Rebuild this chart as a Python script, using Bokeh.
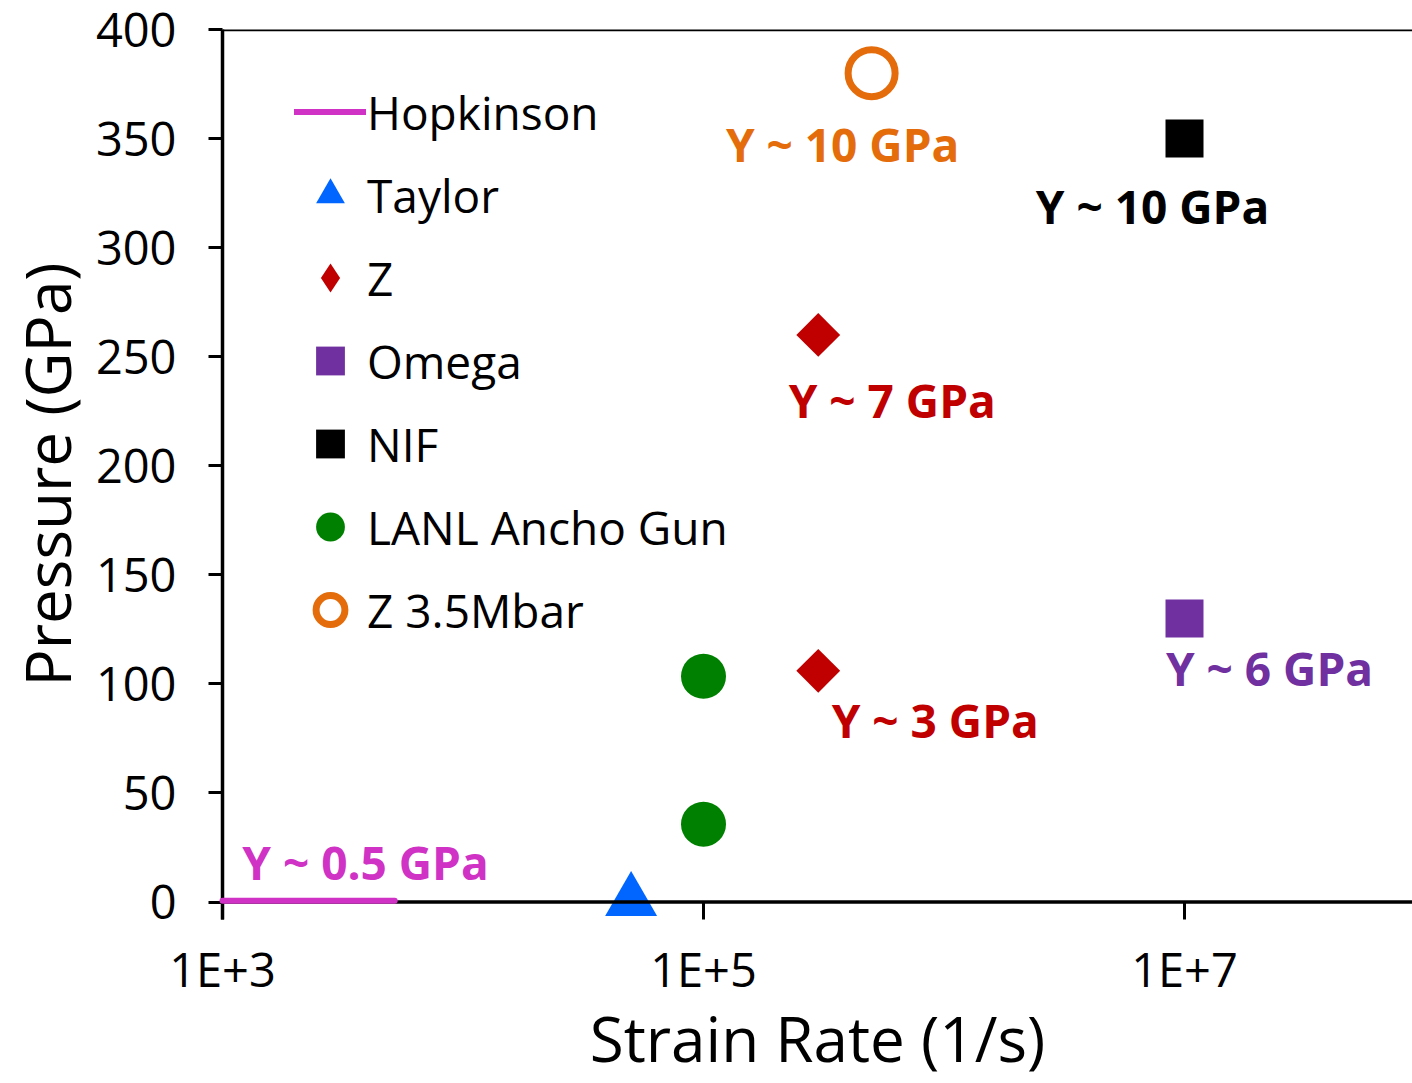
import math
from bokeh.plotting import figure
from bokeh.models import (FixedTicker, CustomJSTickFormatter, Span, Label,
                          Legend, LegendItem)
from bokeh.embed import file_html
from bokeh.resources import INLINE

# ---------------- data ----------------
hopkinson_rate = [1e3, 5.2e3]
hopkinson_p = [0.6, 0.6]
taylor_rate = [5e4]
taylor_p = [0.5]
z_rate = [3e5, 3e5]
z_p = [260, 106]
omega_rate = [1e7]
omega_p = [130]
nif_rate = [1e7]
nif_p = [350]
lanl_rate = [1e5, 1e5]
lanl_p = [103.5, 35.7]
z35_rate = [5e5]
z35_p = [380]

x_ticks = [1e3, 1e5, 1e7]
y_ticks = [0, 50, 100, 150, 200, 250, 300, 350, 400]

# annotations: text, anchor rate, anchor pressure, colour
ann_text = ["Y ~ 10 GPa", "Y ~ 10 GPa", "Y ~ 7 GPa", "Y ~ 3 GPa", "Y ~ 6 GPa", "Y ~ 0.5 GPa"]
ann_rate = [5e5, 1e7, 3e5, 3e5, 1e7, 1e3]
ann_p = [380, 350, 260, 106, 130, 0]
ann_color = ["#E46C0A", "#000000", "#C00000", "#C00000", "#7030A0", "#CF32C5"]
# screen offsets (px) of label centres from anchors
ann_dx = [-29, -32, 74, 117, 85, 143]
ann_dy = [-71, -67, -65, -49, -50, 40]

FONT = "Open Sans"
X_LO, X_HI = 1e3, 10 ** 7.948

p = figure(width=1412, height=1083, x_axis_type="log",
           x_range=(X_LO, X_HI), y_range=(-8, 400),
           output_backend="svg", toolbar_location=None,
           min_border_left=222, min_border_right=0,
           min_border_top=29, min_border_bottom=164)
p.outline_line_color = None
p.xgrid.visible = False
p.ygrid.visible = False
p.background_fill_color = "white"
p.border_fill_color = "white"

# axes
p.xaxis.ticker = FixedTicker(ticks=x_ticks)
p.xaxis.formatter = CustomJSTickFormatter(code="return '1E+' + Math.round(Math.log10(tick));")
p.yaxis.ticker = FixedTicker(ticks=y_ticks)
for ax in (p.xaxis[0], p.yaxis[0]):
    ax.axis_line_width = 3.5
    ax.axis_line_color = "black"
    ax.major_tick_line_width = 3
    ax.major_tick_line_color = "black"
    ax.major_tick_in = 0
    ax.major_tick_out = 14
    ax.minor_tick_line_color = None
    ax.major_label_text_font = FONT
    ax.major_label_text_font_size = "47px"
    ax.major_label_text_color = "black"
    ax.axis_label_text_font = FONT
    ax.axis_label_text_font_style = "normal"
    ax.axis_label_text_font_size = "62px"
    ax.axis_label_text_color = "black"
p.yaxis.axis_label = "Pressure (GPa)"
p.yaxis.major_label_standoff = 32
p.yaxis.axis_label_standoff = 4

# x axis sits at the frame bottom; its line is drawn at P = 0 by a span,
# and its ticks reach up to that line
p.xaxis.axis_line_color = None
p.xaxis.major_tick_in = 17
p.xaxis.major_tick_out = 0
p.xaxis.major_label_standoff = 17
p.xaxis.axis_label = "Strain Rate (1/s)"
p.xaxis.axis_label_standoff = -8
p.add_layout(Span(location=0, dimension="width", line_color="black", line_width=3.5))

# top border line
p.add_layout(Span(location=400, dimension="width", line_color="black", line_width=3.5))

# series
r_hop = p.line(hopkinson_rate, hopkinson_p, line_color="#CF32C5", line_width=6,
               line_cap="round", level="overlay")
r_tay = p.scatter(taylor_rate, taylor_p, marker="triangle", size=52,
                  fill_color="#0066FF", line_color=None)
r_z = p.scatter(z_rate, z_p, marker="square", size=31, angle=math.pi / 4,
                fill_color="#C00000", line_color=None)
# legend swatch for Z (diamond shape; zero size so only the legend shows it)
r_z_key = p.scatter(z_rate, z_p, marker="diamond", size=0,
                    fill_color="#C00000", line_color=None)
r_om = p.scatter(omega_rate, omega_p, marker="square", size=38,
                 fill_color="#7030A0", line_color=None)
r_nif = p.scatter(nif_rate, nif_p, marker="square", size=38,
                  fill_color="black", line_color=None)
r_lanl = p.scatter(lanl_rate, lanl_p, marker="circle", size=45,
                   fill_color="#008000", line_color=None)
r_z35 = p.scatter(z35_rate, z35_p, marker="circle", size=47,
                  fill_color=None, line_color="#E46C0A", line_width=7)

# annotations
for t, xr, yp, c, dx, dy in zip(ann_text, ann_rate, ann_p, ann_color, ann_dx, ann_dy):
    p.add_layout(Label(x=xr, y=yp, x_offset=dx, y_offset=dy, text=t,
                       text_font=FONT, text_font_style="bold", text_font_size="46px",
                       text_color=c, text_align="center", text_baseline="middle"))

legend = Legend(items=[
    LegendItem(label="Hopkinson", renderers=[r_hop]),
    LegendItem(label="Taylor", renderers=[r_tay]),
    LegendItem(label="Z", renderers=[r_z_key]),
    LegendItem(label="Omega", renderers=[r_om]),
    LegendItem(label="NIF", renderers=[r_nif]),
    LegendItem(label="LANL Ancho Gun", renderers=[r_lanl]),
    LegendItem(label="Z 3.5Mbar", renderers=[r_z35]),
], location=(72, 272), orientation="vertical")
legend.background_fill_alpha = 0
legend.border_line_color = None
legend.padding = 0
legend.margin = 0
legend.spacing = 8
legend.glyph_width = 72
legend.glyph_height = 75
legend.label_standoff = 1
legend.label_text_font = FONT
legend.label_text_font_size = "46px"
legend.label_text_color = "black"
legend.label_text_baseline = "middle"
p.add_layout(legend)

open("out.html", "w").write(file_html(p, INLINE))
